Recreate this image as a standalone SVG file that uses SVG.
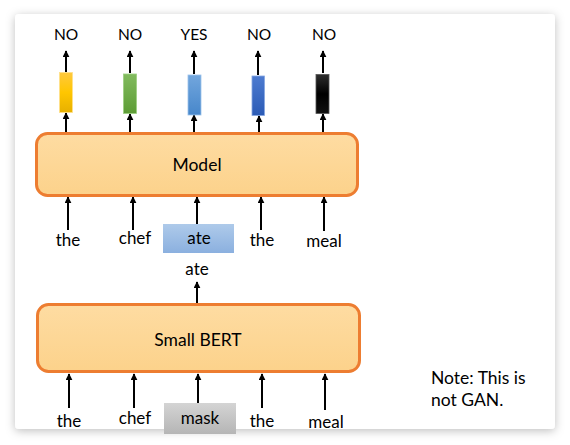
<svg xmlns="http://www.w3.org/2000/svg" width="570" height="445" viewBox="0 0 570 445">
<style>
text{font-family:Lato,"Open Sans","Liberation Sans",sans-serif;fill:#000;text-anchor:middle}
.lbl{font-size:15.5px}
.w{font-size:17px}
.big{font-size:17.5px}
.box{stroke:#ed7d31;stroke-width:3}
.ar{stroke:#000;stroke-width:2;fill:none;marker-end:url(#ah)}
.bar{stroke-width:0.8}
</style>
<defs>
<marker id="ah" viewBox="0 0 10 10" refX="9" refY="5" markerWidth="3.5" markerHeight="3.5" orient="auto" markerUnits="strokeWidth">
<path d="M0,0 L10,5 L0,10 z" fill="#000"/>
</marker>
<filter id="sh" x="-10%" y="-10%" width="120%" height="120%">
<feDropShadow dx="0" dy="2" stdDeviation="5" flood-color="#000" flood-opacity="0.25"/>
</filter>
<linearGradient id="gOr" x1="0" y1="0" x2="0" y2="1"><stop offset="0" stop-color="#fedca2"/><stop offset="1" stop-color="#fcd28b"/></linearGradient>
<linearGradient id="gY" x1="0" y1="0" x2="0" y2="1"><stop offset="0" stop-color="#ffc93e"/><stop offset="0.5" stop-color="#ffc600"/><stop offset="1" stop-color="#e7b000"/></linearGradient>
<linearGradient id="gG" x1="0" y1="0" x2="0" y2="1"><stop offset="0" stop-color="#82bb5e"/><stop offset="1" stop-color="#5d9c35"/></linearGradient>
<linearGradient id="gLB" x1="0" y1="0" x2="0" y2="1"><stop offset="0" stop-color="#72a6dd"/><stop offset="1" stop-color="#4787cb"/></linearGradient>
<linearGradient id="gB" x1="0" y1="0" x2="0" y2="1"><stop offset="0" stop-color="#4d7bd0"/><stop offset="1" stop-color="#2b5bb6"/></linearGradient>
<linearGradient id="gK" x1="0" y1="0" x2="0" y2="1"><stop offset="0" stop-color="#2e2e2e"/><stop offset="0.5" stop-color="#000"/><stop offset="1" stop-color="#111"/></linearGradient>
<linearGradient id="gAte" x1="0" y1="0" x2="0" y2="1"><stop offset="0" stop-color="#aecaea"/><stop offset="1" stop-color="#8bb0df"/></linearGradient>
<linearGradient id="gMask" x1="0" y1="0" x2="0" y2="1"><stop offset="0" stop-color="#d4d4d4"/><stop offset="1" stop-color="#b5b5b5"/></linearGradient>
</defs>
<rect x="0" y="0" width="570" height="445" fill="#fff"/>
<rect id="card" x="15" y="14" width="540" height="415" rx="4" fill="#fff" filter="url(#sh)"/>

<g id="connectors">
<line class="ar" x1="66" y1="72" x2="66" y2="51"/>
<line class="ar" x1="130" y1="73" x2="130" y2="51"/>
<line class="ar" x1="194" y1="74" x2="194" y2="51"/>
<line class="ar" x1="258" y1="75" x2="258" y2="51"/>
<line class="ar" x1="323" y1="73" x2="323" y2="51"/>
<line class="ar" x1="66" y1="132" x2="66" y2="113"/>
<line class="ar" x1="130" y1="132" x2="130" y2="114"/>
<line class="ar" x1="194" y1="132" x2="194" y2="115"/>
<line class="ar" x1="259" y1="132" x2="259" y2="116"/>
<line class="ar" x1="323" y1="132" x2="323" y2="114"/>
<line class="ar" x1="68" y1="230" x2="68" y2="197"/>
<line class="ar" x1="133" y1="230" x2="133" y2="197"/>
<line class="ar" x1="197" y1="224" x2="197" y2="197"/>
<line class="ar" x1="261" y1="230" x2="261" y2="197"/>
<line class="ar" x1="324" y1="231" x2="324" y2="197"/>
<line class="ar" x1="197" y1="303" x2="197" y2="282"/>
<line class="ar" x1="69" y1="408" x2="69" y2="374"/>
<line class="ar" x1="134" y1="408" x2="134" y2="374"/>
<line class="ar" x1="198" y1="403" x2="198" y2="374"/>
<line class="ar" x1="262" y1="408" x2="262" y2="374"/>
<line class="ar" x1="325" y1="410" x2="325" y2="374"/>
</g>

<g id="outputs">
<text class="lbl" x="66" y="40">NO</text>
<text class="lbl" x="130" y="40">NO</text>
<text class="lbl" x="194" y="40">YES</text>
<text class="lbl" x="259" y="40">NO</text>
<text class="lbl" x="324" y="40">NO</text>
</g>

<g id="bars">
<rect id="bar1" class="bar" x="59.5" y="72.5" width="13" height="40" fill="url(#gY)" stroke="#ffe08a"/>
<rect id="bar2" class="bar" x="123.5" y="74" width="13" height="39.5" fill="url(#gG)" stroke="#9ccf80"/>
<rect id="bar3" class="bar" x="188" y="75" width="13" height="40" fill="url(#gLB)" stroke="#9cc2ea"/>
<rect id="bar4" class="bar" x="252" y="76" width="12.5" height="39.5" fill="url(#gB)" stroke="#87a7e2"/>
<rect id="bar5" class="bar" x="316" y="74.5" width="13" height="39" fill="url(#gK)" stroke="#555"/>
</g>

<g id="model">
<rect class="box" x="36.5" y="133.5" width="321" height="62" rx="11" fill="url(#gOr)"/>
<text class="big" x="197" y="171">Model</text>
</g>

<g id="row1">
<text class="w" x="68" y="246">the</text>
<text class="w" x="135" y="244">chef</text>
<rect id="ateBox" x="163" y="224" width="71" height="29" fill="url(#gAte)"/>
<text class="w" x="199" y="244">ate</text>
<text class="w" x="262" y="246">the</text>
<text class="w" x="324" y="247">meal</text>
</g>

<g id="sample">
<text class="w" x="197" y="275">ate</text>
</g>

<g id="smallbert">
<rect class="box" x="37.5" y="304.5" width="322" height="67" rx="11" fill="url(#gOr)"/>
<text class="big" x="198" y="346">Small BERT</text>
</g>

<g id="row2">
<text class="w" x="69" y="427">the</text>
<text class="w" x="135" y="424">chef</text>
<rect id="maskBox" x="164" y="403" width="72" height="31" fill="url(#gMask)"/>
<text class="w" x="200" y="424">mask</text>
<text class="w" x="262" y="427">the</text>
<text class="w" x="326" y="428">meal</text>
</g>

<g id="note">
<text class="big" x="431" y="384" style="text-anchor:start">Note: This is</text>
<text class="big" x="431" y="406" style="text-anchor:start">not GAN.</text>
</g>
</svg>
